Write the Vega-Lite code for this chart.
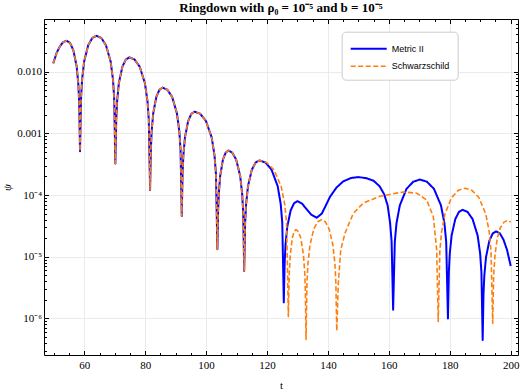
{
"$schema": "https://vega.github.io/schema/vega-lite/v6.json",
"width": 474, "height": 336,
"autosize": {"type": "none"},
"padding": {"left": 44, "top": 19, "right": 5, "bottom": 37},
"background": "white",
"title": {"text": "Ringdown with ρ₀ = 10⁻⁵ and b = 10⁻⁵", "font": "Liberation Serif", "fontSize": 13, "fontWeight": "bold", "color": "black", "anchor": "middle", "frame": "group", "offset": 4},
"config": {"view": {"stroke": "black", "strokeWidth": 1}},
"data": {"values": [
{"t":49.8,"psi":1.36e-2,"series":"Metric II"},{"t":50.9,"psi":2.00e-2,"series":"Metric II"},{"t":52.0,"psi":2.57e-2,"series":"Metric II"},{"t":53.1,"psi":3.02e-2,"series":"Metric II"},{"t":54.2,"psi":3.16e-2,"series":"Metric II"},{"t":55.3,"psi":2.92e-2,"series":"Metric II"},{"t":56.4,"psi":2.23e-2,"series":"Metric II"},{"t":57.5,"psi":1.21e-2,"series":"Metric II"},{"t":58.05,"psi":6.17e-3,"series":"Metric II"},{"t":58.325,"psi":3.10e-3,"series":"Metric II"},{"t":58.6,"psi":5.13e-4,"series":"Metric II"},{"t":58.94,"psi":3.72e-3,"series":"Metric II"},{"t":59.275,"psi":7.41e-3,"series":"Metric II"},{"t":59.95,"psi":1.46e-2,"series":"Metric II"},{"t":61.3,"psi":2.69e-2,"series":"Metric II"},{"t":62.65,"psi":3.52e-2,"series":"Metric II"},{"t":64.0,"psi":3.80e-2,"series":"Metric II"},{"t":65.55,"psi":3.52e-2,"series":"Metric II"},{"t":67.1,"psi":2.69e-2,"series":"Metric II"},{"t":68.65,"psi":1.46e-2,"series":"Metric II"},{"t":69.425,"psi":7.41e-3,"series":"Metric II"},{"t":69.81,"psi":3.72e-3,"series":"Metric II"},{"t":70.2,"psi":3.24e-4,"series":"Metric II"},{"t":70.49,"psi":1.66e-3,"series":"Metric II"},{"t":70.775,"psi":3.31e-3,"series":"Metric II"},{"t":71.35,"psi":6.50e-3,"series":"Metric II"},{"t":72.5,"psi":1.20e-2,"series":"Metric II"},{"t":73.65,"psi":1.57e-2,"series":"Metric II"},{"t":74.8,"psi":1.70e-2,"series":"Metric II"},{"t":76.5,"psi":1.57e-2,"series":"Metric II"},{"t":78.2,"psi":1.20e-2,"series":"Metric II"},{"t":79.9,"psi":6.50e-3,"series":"Metric II"},{"t":80.75,"psi":3.31e-3,"series":"Metric II"},{"t":81.175,"psi":1.66e-3,"series":"Metric II"},{"t":81.6,"psi":1.20e-4,"series":"Metric II"},{"t":81.856,"psi":5.38e-4,"series":"Metric II"},{"t":82.11,"psi":1.07e-3,"series":"Metric II"},{"t":82.625,"psi":2.10e-3,"series":"Metric II"},{"t":83.65,"psi":3.88e-3,"series":"Metric II"},{"t":84.675,"psi":5.08e-3,"series":"Metric II"},{"t":85.7,"psi":5.50e-3,"series":"Metric II"},{"t":87.275,"psi":5.08e-3,"series":"Metric II"},{"t":88.85,"psi":3.88e-3,"series":"Metric II"},{"t":90.425,"psi":2.10e-3,"series":"Metric II"},{"t":91.21,"psi":1.07e-3,"series":"Metric II"},{"t":91.606,"psi":5.38e-4,"series":"Metric II"},{"t":92.0,"psi":4.57e-5,"series":"Metric II"},{"t":92.26,"psi":2.19e-4,"series":"Metric II"},{"t":92.525,"psi":4.37e-4,"series":"Metric II"},{"t":93.05,"psi":8.57e-4,"series":"Metric II"},{"t":94.1,"psi":1.58e-3,"series":"Metric II"},{"t":95.15,"psi":2.07e-3,"series":"Metric II"},{"t":96.2,"psi":2.24e-3,"series":"Metric II"},{"t":98.075,"psi":2.07e-3,"series":"Metric II"},{"t":99.95,"psi":1.58e-3,"series":"Metric II"},{"t":101.825,"psi":8.57e-4,"series":"Metric II"},{"t":102.76,"psi":4.37e-4,"series":"Metric II"},{"t":103.23,"psi":2.19e-4,"series":"Metric II"},{"t":103.7,"psi":1.32e-5,"series":"Metric II"},{"t":103.925,"psi":5.14e-5,"series":"Metric II"},{"t":104.15,"psi":1.02e-4,"series":"Metric II"},{"t":104.6,"psi":2.01e-4,"series":"Metric II"},{"t":105.5,"psi":3.71e-4,"series":"Metric II"},{"t":106.4,"psi":4.85e-4,"series":"Metric II"},{"t":107.3,"psi":5.25e-4,"series":"Metric II"},{"t":108.6,"psi":4.85e-4,"series":"Metric II"},{"t":109.9,"psi":3.71e-4,"series":"Metric II"},{"t":111.2,"psi":2.01e-4,"series":"Metric II"},{"t":111.85,"psi":1.02e-4,"series":"Metric II"},{"t":112.175,"psi":5.14e-5,"series":"Metric II"},{"t":112.5,"psi":5.89e-6,"series":"Metric II"},{"t":112.81,"psi":3.56e-5,"series":"Metric II"},{"t":113.125,"psi":7.08e-5,"series":"Metric II"},{"t":113.75,"psi":1.39e-4,"series":"Metric II"},{"t":115.0,"psi":2.56e-4,"series":"Metric II"},{"t":116.25,"psi":3.36e-4,"series":"Metric II"},{"t":117.5,"psi":3.63e-4,"series":"Metric II"},
{"t":119.5,"psi":3.36e-4,"series":"Metric II"},{"t":121.5,"psi":2.56e-4,"series":"Metric II"},{"t":123.5,"psi":1.39e-4,"series":"Metric II"},{"t":124.5,"psi":7.08e-5,"series":"Metric II"},{"t":125.0,"psi":3.56e-5,"series":"Metric II"},{"t":125.5,"psi":1.82e-6,"series":"Metric II"},{"t":125.78,"psi":7.78e-6,"series":"Metric II"},{"t":126.06,"psi":1.55e-5,"series":"Metric II"},{"t":126.625,"psi":3.04e-5,"series":"Metric II"},{"t":127.75,"psi":5.61e-5,"series":"Metric II"},{"t":128.875,"psi":7.35e-5,"series":"Metric II"},{"t":130.0,"psi":7.94e-5,"series":"Metric II"},{"t":131.5,"psi":7.24e-5,"series":"Metric II"},{"t":133.0,"psi":5.89e-5,"series":"Metric II"},{"t":134.5,"psi":4.79e-5,"series":"Metric II"},{"t":136.3,"psi":4.27e-5,"series":"Metric II"},{"t":138.0,"psi":5.01e-5,"series":"Metric II"},{"t":139.3,"psi":6.76e-5,"series":"Metric II"},{"t":140.66,"psi":9.33e-5,"series":"Metric II"},{"t":142.8,"psi":1.32e-4,"series":"Metric II"},{"t":145.0,"psi":1.66e-4,"series":"Metric II"},{"t":147.5,"psi":1.88e-4,"series":"Metric II"},{"t":150.0,"psi":1.95e-4,"series":"Metric II"},{"t":152.5,"psi":1.88e-4,"series":"Metric II"},{"t":155.0,"psi":1.70e-4,"series":"Metric II"},{"t":157.0,"psi":1.38e-4,"series":"Metric II"},{"t":158.5,"psi":1.02e-4,"series":"Metric II"},{"t":159.6,"psi":6.76e-5,"series":"Metric II"},{"t":160.4,"psi":3.55e-5,"series":"Metric II"},{"t":160.9,"psi":1.78e-5,"series":"Metric II"},{"t":161.4,"psi":1.38e-6,"series":"Metric II"},{"t":161.95,"psi":1.74e-5,"series":"Metric II"},{"t":162.5,"psi":3.47e-5,"series":"Metric II"},{"t":163.6,"psi":6.81e-5,"series":"Metric II"},{"t":165.8,"psi":1.26e-4,"series":"Metric II"},{"t":168.0,"psi":1.64e-4,"series":"Metric II"},{"t":170.2,"psi":1.78e-4,"series":"Metric II"},{"t":172.5,"psi":1.64e-4,"series":"Metric II"},{"t":174.8,"psi":1.26e-4,"series":"Metric II"},{"t":177.1,"psi":6.81e-5,"series":"Metric II"},{"t":178.25,"psi":3.47e-5,"series":"Metric II"},{"t":178.825,"psi":1.74e-5,"series":"Metric II"},{"t":179.4,"psi":1.00e-6,"series":"Metric II"},{"t":179.7,"psi":5.64e-6,"series":"Metric II"},{"t":180.0,"psi":1.12e-5,"series":"Metric II"},{"t":180.6,"psi":2.20e-5,"series":"Metric II"},{"t":181.8,"psi":4.06e-5,"series":"Metric II"},{"t":183.0,"psi":5.32e-5,"series":"Metric II"},{"t":184.2,"psi":5.75e-5,"series":"Metric II"},{"t":185.85,"psi":5.32e-5,"series":"Metric II"},{"t":187.5,"psi":4.06e-5,"series":"Metric II"},{"t":189.15,"psi":2.20e-5,"series":"Metric II"},{"t":189.975,"psi":1.12e-5,"series":"Metric II"},{"t":190.39,"psi":5.64e-6,"series":"Metric II"},{"t":190.8,"psi":4.47e-7,"series":"Metric II"},{"t":191.075,"psi":2.52e-6,"series":"Metric II"},{"t":191.35,"psi":5.01e-6,"series":"Metric II"},{"t":191.9,"psi":9.84e-6,"series":"Metric II"},{"t":193.0,"psi":1.82e-5,"series":"Metric II"},{"t":194.1,"psi":2.38e-5,"series":"Metric II"},{"t":195.2,"psi":2.57e-5,"series":"Metric II"},{"t":196.4,"psi":2.40e-5,"series":"Metric II"},{"t":197.6,"psi":1.91e-5,"series":"Metric II"},{"t":198.8,"psi":1.29e-5,"series":"Metric II"},{"t":200.0,"psi":7.08e-6,"series":"Metric II"},
{"t":49.8,"psi":1.36e-2,"series":"Schwarzschild"},{"t":50.9,"psi":2.00e-2,"series":"Schwarzschild"},{"t":52.0,"psi":2.57e-2,"series":"Schwarzschild"},{"t":53.1,"psi":3.02e-2,"series":"Schwarzschild"},{"t":54.2,"psi":3.16e-2,"series":"Schwarzschild"},{"t":55.3,"psi":2.92e-2,"series":"Schwarzschild"},{"t":56.4,"psi":2.23e-2,"series":"Schwarzschild"},{"t":57.5,"psi":1.21e-2,"series":"Schwarzschild"},{"t":58.05,"psi":6.17e-3,"series":"Schwarzschild"},{"t":58.325,"psi":3.10e-3,"series":"Schwarzschild"},{"t":58.6,"psi":5.13e-4,"series":"Schwarzschild"},{"t":58.94,"psi":3.72e-3,"series":"Schwarzschild"},{"t":59.275,"psi":7.41e-3,"series":"Schwarzschild"},{"t":59.95,"psi":1.46e-2,"series":"Schwarzschild"},{"t":61.3,"psi":2.69e-2,"series":"Schwarzschild"},{"t":62.65,"psi":3.52e-2,"series":"Schwarzschild"},{"t":64.0,"psi":3.80e-2,"series":"Schwarzschild"},{"t":65.55,"psi":3.52e-2,"series":"Schwarzschild"},{"t":67.1,"psi":2.69e-2,"series":"Schwarzschild"},{"t":68.65,"psi":1.46e-2,"series":"Schwarzschild"},{"t":69.425,"psi":7.41e-3,"series":"Schwarzschild"},{"t":69.81,"psi":3.72e-3,"series":"Schwarzschild"},{"t":70.2,"psi":3.24e-4,"series":"Schwarzschild"},{"t":70.49,"psi":1.66e-3,"series":"Schwarzschild"},{"t":70.775,"psi":3.31e-3,"series":"Schwarzschild"},{"t":71.35,"psi":6.50e-3,"series":"Schwarzschild"},{"t":72.5,"psi":1.20e-2,"series":"Schwarzschild"},{"t":73.65,"psi":1.57e-2,"series":"Schwarzschild"},{"t":74.8,"psi":1.70e-2,"series":"Schwarzschild"},{"t":76.5,"psi":1.57e-2,"series":"Schwarzschild"},{"t":78.2,"psi":1.20e-2,"series":"Schwarzschild"},{"t":79.9,"psi":6.50e-3,"series":"Schwarzschild"},{"t":80.75,"psi":3.31e-3,"series":"Schwarzschild"},{"t":81.175,"psi":1.66e-3,"series":"Schwarzschild"},{"t":81.6,"psi":1.20e-4,"series":"Schwarzschild"},{"t":81.856,"psi":5.38e-4,"series":"Schwarzschild"},{"t":82.11,"psi":1.07e-3,"series":"Schwarzschild"},{"t":82.625,"psi":2.10e-3,"series":"Schwarzschild"},{"t":83.65,"psi":3.88e-3,"series":"Schwarzschild"},{"t":84.675,"psi":5.08e-3,"series":"Schwarzschild"},{"t":85.7,"psi":5.50e-3,"series":"Schwarzschild"},{"t":87.275,"psi":5.08e-3,"series":"Schwarzschild"},{"t":88.85,"psi":3.88e-3,"series":"Schwarzschild"},{"t":90.425,"psi":2.10e-3,"series":"Schwarzschild"},{"t":91.21,"psi":1.07e-3,"series":"Schwarzschild"},{"t":91.606,"psi":5.38e-4,"series":"Schwarzschild"},{"t":92.0,"psi":4.57e-5,"series":"Schwarzschild"},{"t":92.26,"psi":2.19e-4,"series":"Schwarzschild"},{"t":92.525,"psi":4.37e-4,"series":"Schwarzschild"},{"t":93.05,"psi":8.57e-4,"series":"Schwarzschild"},{"t":94.1,"psi":1.58e-3,"series":"Schwarzschild"},{"t":95.15,"psi":2.07e-3,"series":"Schwarzschild"},{"t":96.2,"psi":2.24e-3,"series":"Schwarzschild"},{"t":98.075,"psi":2.07e-3,"series":"Schwarzschild"},{"t":99.95,"psi":1.58e-3,"series":"Schwarzschild"},{"t":101.825,"psi":8.57e-4,"series":"Schwarzschild"},{"t":102.76,"psi":4.37e-4,"series":"Schwarzschild"},{"t":103.23,"psi":2.19e-4,"series":"Schwarzschild"},{"t":103.7,"psi":1.32e-5,"series":"Schwarzschild"},{"t":103.925,"psi":5.14e-5,"series":"Schwarzschild"},{"t":104.15,"psi":1.02e-4,"series":"Schwarzschild"},{"t":104.6,"psi":2.01e-4,"series":"Schwarzschild"},{"t":105.5,"psi":3.71e-4,"series":"Schwarzschild"},{"t":106.4,"psi":4.85e-4,"series":"Schwarzschild"},{"t":107.3,"psi":5.25e-4,"series":"Schwarzschild"},{"t":108.6,"psi":4.85e-4,"series":"Schwarzschild"},{"t":109.9,"psi":3.71e-4,"series":"Schwarzschild"},{"t":111.2,"psi":2.01e-4,"series":"Schwarzschild"},{"t":111.85,"psi":1.02e-4,"series":"Schwarzschild"},{"t":112.175,"psi":5.14e-5,"series":"Schwarzschild"},{"t":112.5,"psi":5.89e-6,"series":"Schwarzschild"},{"t":112.81,"psi":3.56e-5,"series":"Schwarzschild"},{"t":113.125,"psi":7.08e-5,"series":"Schwarzschild"},{"t":113.75,"psi":1.39e-4,"series":"Schwarzschild"},{"t":115.0,"psi":2.56e-4,"series":"Schwarzschild"},{"t":116.25,"psi":3.36e-4,"series":"Schwarzschild"},{"t":117.5,"psi":3.63e-4,"series":"Schwarzschild"},
{"t":119.875,"psi":3.36e-4,"series":"Schwarzschild"},{"t":122.25,"psi":2.56e-4,"series":"Schwarzschild"},{"t":124.625,"psi":1.39e-4,"series":"Schwarzschild"},{"t":125.81,"psi":7.08e-5,"series":"Schwarzschild"},{"t":126.41,"psi":3.56e-5,"series":"Schwarzschild"},{"t":127.0,"psi":1.07e-6,"series":"Schwarzschild"},{"t":127.16,"psi":2.70e-6,"series":"Schwarzschild"},{"t":127.31,"psi":5.37e-6,"series":"Schwarzschild"},{"t":127.625,"psi":1.05e-5,"series":"Schwarzschild"},{"t":128.25,"psi":1.95e-5,"series":"Schwarzschild"},{"t":128.875,"psi":2.55e-5,"series":"Schwarzschild"},{"t":129.5,"psi":2.75e-5,"series":"Schwarzschild"},{"t":130.325,"psi":2.55e-5,"series":"Schwarzschild"},{"t":131.15,"psi":1.95e-5,"series":"Schwarzschild"},{"t":131.975,"psi":1.05e-5,"series":"Schwarzschild"},{"t":132.39,"psi":5.37e-6,"series":"Schwarzschild"},{"t":132.59,"psi":2.70e-6,"series":"Schwarzschild"},{"t":132.8,"psi":4.57e-7,"series":"Schwarzschild"},{"t":133.12,"psi":3.90e-6,"series":"Schwarzschild"},{"t":133.44,"psi":7.76e-6,"series":"Schwarzschild"},{"t":134.075,"psi":1.52e-5,"series":"Schwarzschild"},{"t":135.35,"psi":2.81e-5,"series":"Schwarzschild"},{"t":136.625,"psi":3.68e-5,"series":"Schwarzschild"},{"t":137.9,"psi":3.98e-5,"series":"Schwarzschild"},{"t":139.15,"psi":3.68e-5,"series":"Schwarzschild"},{"t":140.4,"psi":2.81e-5,"series":"Schwarzschild"},{"t":141.65,"psi":1.52e-5,"series":"Schwarzschild"},{"t":142.275,"psi":7.76e-6,"series":"Schwarzschild"},{"t":142.59,"psi":3.90e-6,"series":"Schwarzschild"},{"t":142.9,"psi":6.31e-7,"series":"Schwarzschild"},{"t":143.4,"psi":3.72e-6,"series":"Schwarzschild"},{"t":144.2,"psi":1.29e-5,"series":"Schwarzschild"},{"t":145.6,"psi":2.40e-5,"series":"Schwarzschild"},{"t":148.3,"psi":5.01e-5,"series":"Schwarzschild"},{"t":151.6,"psi":7.41e-5,"series":"Schwarzschild"},{"t":157.1,"psi":9.55e-5,"series":"Schwarzschild"},{"t":164.7,"psi":1.12e-4,"series":"Schwarzschild"},{"t":169.1,"psi":1.07e-4,"series":"Schwarzschild"},{"t":172.4,"psi":8.32e-5,"series":"Schwarzschild"},{"t":174.6,"psi":4.47e-5,"series":"Schwarzschild"},{"t":175.7,"psi":1.29e-5,"series":"Schwarzschild"},{"t":176.2,"psi":8.91e-7,"series":"Schwarzschild"},{"t":176.75,"psi":1.26e-5,"series":"Schwarzschild"},{"t":177.3,"psi":2.51e-5,"series":"Schwarzschild"},{"t":178.4,"psi":4.93e-5,"series":"Schwarzschild"},{"t":180.6,"psi":9.10e-5,"series":"Schwarzschild"},{"t":182.8,"psi":1.19e-4,"series":"Schwarzschild"},{"t":185.0,"psi":1.29e-4,"series":"Schwarzschild"},{"t":187.275,"psi":1.19e-4,"series":"Schwarzschild"},{"t":189.55,"psi":9.10e-5,"series":"Schwarzschild"},{"t":191.825,"psi":4.93e-5,"series":"Schwarzschild"},{"t":192.96,"psi":2.51e-5,"series":"Schwarzschild"},{"t":193.53,"psi":1.26e-5,"series":"Schwarzschild"},{"t":194.1,"psi":8.32e-7,"series":"Schwarzschild"},{"t":194.4,"psi":5.01e-6,"series":"Schwarzschild"},{"t":194.9,"psi":1.12e-5,"series":"Schwarzschild"},{"t":195.6,"psi":2.00e-5,"series":"Schwarzschild"},{"t":196.6,"psi":2.95e-5,"series":"Schwarzschild"},{"t":197.8,"psi":3.63e-5,"series":"Schwarzschild"},{"t":199.0,"psi":3.89e-5,"series":"Schwarzschild"},{"t":200.0,"psi":3.63e-5,"series":"Schwarzschild"}
]},
"layer": [
{"mark": {"type": "line", "clip": true, "strokeJoin": "round"},
 "encoding": {
  "x": {"field": "t", "type": "quantitative", "scale": {"domain": [46.77, 202.4], "nice": false, "zero": false},
        "axis": {"orient": "bottom", "values": [60,80,100,120,140,160,180,200], "grid": true, "gridColor": "#e6e6e6", "gridWidth": 0.8, "domain": false, "ticks": true, "tickSize": -4.5, "tickColor": "black", "labelFont": "Liberation Serif", "labelFontSize": 11, "labelColor": "black", "labelPadding": 8.5, "title": "t", "titleFont": "Liberation Serif", "titleFontSize": 11, "titleFontWeight": "normal", "titleColor": "black", "titlePadding": 9}},
  "y": {"field": "psi", "type": "quantitative", "scale": {"type": "log", "domain": [2.553e-7, 0.07119], "nice": false},
        "axis": {"orient": "left", "values": [0.01, 0.001, 0.0001, 0.00001, 0.000001], "grid": true, "gridColor": "#e6e6e6", "gridWidth": 0.8, "domain": false, "ticks": true, "tickSize": -4.5, "tickColor": "black", "labelFont": "Liberation Serif", "labelFontSize": 11, "labelColor": "black", "labelPadding": 7, "labelExpr": "datum.value > 0.005 ? '0.010' : datum.value > 0.0005 ? '0.001' : datum.value > 0.00005 ? '10⁻⁴' : datum.value > 0.000005 ? '10⁻⁵' : '10⁻⁶'", "title": "ψ", "titleFont": "Liberation Serif", "titleFontSize": 11, "titleFontStyle": "italic", "titleFontWeight": "normal", "titleColor": "black", "titlePadding": 4}},
  "color": {"field": "series", "type": "nominal", "scale": {"domain": ["Metric II", "Schwarzschild"], "range": ["#0000ff", "#ff7f0e"]},
            "legend": {"orient": "none", "legendX": 297.7, "legendY": 12.7, "title": null, "symbolType": "M-1,0H3.5", "symbolSize": 256, "symbolStrokeWidth": 2, "labelFont": "Liberation Sans", "labelFontSize": 9, "labelColor": "black", "labelOffset": 24, "rowPadding": 3.6, "padding": 8, "cornerRadius": 4, "strokeColor": "#cccccc", "fillColor": "white"}},
  "strokeDash": {"field": "series", "type": "nominal", "scale": {"domain": ["Metric II", "Schwarzschild"], "range": [[1, 0], [5, 2.5]]}},
  "strokeWidth": {"field": "series", "type": "nominal", "scale": {"domain": ["Metric II", "Schwarzschild"], "range": [2, 1.6]}, "legend": null}
 }},
{"mark": {"type": "point", "opacity": 0},
 "encoding": {
  "x": {"field": "t", "type": "quantitative", "scale": {"domain": [46.77, 202.4], "nice": false, "zero": false},
        "axis": {"orient": "bottom", "values": [50,55,65,70,75,85,90,95,105,110,115,125,130,135,145,150,155,165,170,175,185,190,195], "grid": false, "domain": false, "labels": false, "title": null, "tickSize": -2.5, "tickColor": "black"}},
  "y": {"field": "psi", "type": "quantitative", "scale": {"type": "log", "domain": [2.553e-7, 0.07119], "nice": false},
        "axis": {"orient": "left", "values": [3e-7,4e-7,5e-7,6e-7,7e-7,8e-7,9e-7,2e-6,3e-6,4e-6,5e-6,6e-6,7e-6,8e-6,9e-6,2e-5,3e-5,4e-5,5e-5,6e-5,7e-5,8e-5,9e-5,2e-4,3e-4,4e-4,5e-4,6e-4,7e-4,8e-4,9e-4,2e-3,3e-3,4e-3,5e-3,6e-3,7e-3,8e-3,9e-3,2e-2,3e-2,4e-2,5e-2,6e-2,7e-2], "grid": false, "domain": false, "labels": false, "title": null, "tickSize": -2.5, "tickColor": "black"}}
 }},
{"mark": {"type": "point", "opacity": 0},
 "encoding": {
  "x": {"field": "t", "type": "quantitative", "scale": {"domain": [46.77, 202.4], "nice": false, "zero": false},
        "axis": {"orient": "top", "values": [60,80,100,120,140,160,180,200], "grid": false, "domain": false, "labels": false, "title": null, "tickSize": -4.5, "tickColor": "black"}},
  "y": {"field": "psi", "type": "quantitative", "scale": {"type": "log", "domain": [2.553e-7, 0.07119], "nice": false},
        "axis": {"orient": "right", "values": [0.01, 0.001, 0.0001, 0.00001, 0.000001], "grid": false, "domain": false, "labels": false, "title": null, "tickSize": -4.5, "tickColor": "black"}}
 }},
{"mark": {"type": "point", "opacity": 0},
 "encoding": {
  "x": {"field": "t", "type": "quantitative", "scale": {"domain": [46.77, 202.4], "nice": false, "zero": false},
        "axis": {"orient": "top", "values": [50,55,65,70,75,85,90,95,105,110,115,125,130,135,145,150,155,165,170,175,185,190,195], "grid": false, "domain": false, "labels": false, "title": null, "tickSize": -2.5, "tickColor": "black"}},
  "y": {"field": "psi", "type": "quantitative", "scale": {"type": "log", "domain": [2.553e-7, 0.07119], "nice": false},
        "axis": {"orient": "right", "values": [3e-7,4e-7,5e-7,6e-7,7e-7,8e-7,9e-7,2e-6,3e-6,4e-6,5e-6,6e-6,7e-6,8e-6,9e-6,2e-5,3e-5,4e-5,5e-5,6e-5,7e-5,8e-5,9e-5,2e-4,3e-4,4e-4,5e-4,6e-4,7e-4,8e-4,9e-4,2e-3,3e-3,4e-3,5e-3,6e-3,7e-3,8e-3,9e-3,2e-2,3e-2,4e-2,5e-2,6e-2,7e-2], "grid": false, "domain": false, "labels": false, "title": null, "tickSize": -2.5, "tickColor": "black"}}
 }}
],
"resolve": {"axis": {"x": "independent", "y": "independent"}}
}
